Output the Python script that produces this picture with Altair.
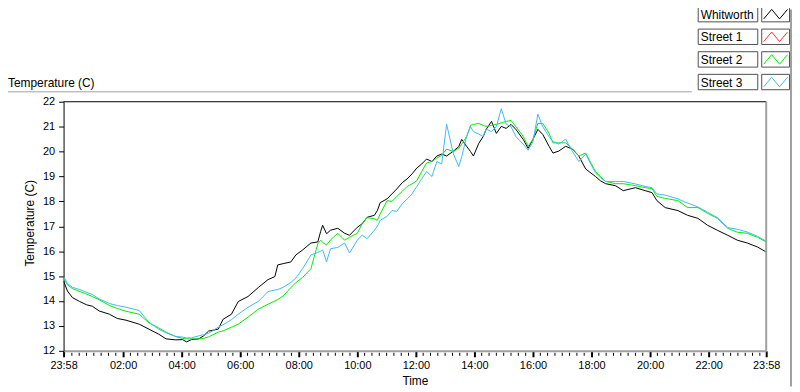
import altair as alt
import pandas as pd

# minutes after the first sample (23:58)
minutes = [0, 8, 18, 33, 47, 59, 73, 94, 110, 128,
           155, 175, 195, 210, 230, 244, 252, 262, 277, 287,
           297, 317, 327, 344, 358, 378, 399, 419, 433, 439,
           450, 466, 476, 490, 507, 521, 527, 531, 539, 547,
           562, 576, 586, 602, 612, 622, 637, 643, 649, 663,
           673, 683, 694, 704, 714, 724, 734, 744, 755, 765,
           775, 785, 799, 810, 816, 826, 834, 840, 851, 860,
           866, 877, 887, 897, 907, 917, 927, 942, 952, 962,
           972, 982, 995, 1003, 1015, 1029, 1043, 1056, 1070, 1090,
           1100, 1111, 1131, 1147, 1172, 1192, 1206, 1216, 1233, 1259,
           1279, 1300, 1320, 1340, 1361, 1381, 1401, 1422, 1440]

whitworth = [14.8, 14.4, 14.14, 13.98, 13.85, 13.79, 13.6, 13.47, 13.3, 13.23,
             13.07, 12.87, 12.67, 12.48, 12.44, 12.45, 12.36, 12.45, 12.48, 12.6,
             12.79, 12.87, 13.27, 13.47, 13.98, 14.18, 14.54, 14.86, 14.98, 15.45,
             15.5, 15.57, 15.85, 16.05, 16.33, 16.37, 16.8, 17.04, 16.7, 16.84,
             16.92, 16.72, 16.64, 16.96, 17.1, 17.36, 17.44, 17.63, 17.95, 18.1,
             18.3, 18.5, 18.75, 18.9, 19.1, 19.34, 19.5, 19.7, 19.6, 19.82,
             19.9, 19.82, 20.02, 20.2, 20.49, 20.21, 20.0, 19.82, 20.33, 20.6,
             20.89, 21.21, 20.73, 21.01, 20.93, 21.09, 20.89, 20.49, 20.13, 20.49,
             20.89, 20.69, 20.21, 19.94, 20.02, 20.21, 20.1, 19.82, 19.3, 19.0,
             18.83, 18.71, 18.63, 18.43, 18.55, 18.43, 18.35, 18.03, 17.75, 17.63,
             17.44, 17.32, 17.04, 16.84, 16.64, 16.44, 16.33, 16.17, 15.97]

street2 = [14.94, 14.65, 14.5, 14.38, 14.28, 14.18, 14.05, 13.82, 13.7, 13.59,
           13.47, 13.12, 12.92, 12.75, 12.57, 12.5, 12.48, 12.48, 12.48, 12.5,
           12.56, 12.75, 12.8, 12.95, 13.07, 13.35, 13.67, 13.87, 14.0, 14.06,
           14.2, 14.54, 14.74, 14.95, 15.3, 16.3, 16.44, 16.35, 16.25, 16.45,
           16.72, 16.44, 16.56, 16.72, 17.1, 17.35, 17.3, 17.24, 17.5, 18.03,
           18.0, 18.2, 18.4, 18.6, 18.7, 18.83, 19.2, 19.54, 19.6, 19.74,
           19.85, 20.1, 20.0, 20.13, 20.3, 20.6, 21.05, 21.09, 21.13, 21.05,
           21.01, 21.05, 21.09, 21.15, 21.21, 21.25, 21.0, 20.61, 20.21, 20.49,
           21.13, 21.13, 20.73, 20.35, 20.35, 20.35, 20.1, 19.82, 19.94, 19.2,
           19.0, 18.8, 18.71, 18.71, 18.63, 18.55, 18.51, 18.2, 18.12, 18.03,
           17.75, 17.75, 17.52, 17.32, 16.92, 16.76, 16.72, 16.56, 16.37]

street3 = [14.98, 14.7, 14.55, 14.46, 14.35, 14.26, 14.08, 13.9, 13.82, 13.75,
           13.62, 13.15, 12.87, 12.72, 12.58, 12.55, 12.52, 12.52, 12.6, 12.65,
           12.7, 12.95, 13.05, 13.25, 13.47, 13.75, 13.98, 14.38, 14.44, 14.46,
           14.55, 14.75, 14.92, 15.3, 15.85, 15.95, 16.0, 16.05, 15.57, 16.1,
           16.15, 16.33, 15.93, 16.44, 16.65, 16.5, 16.84, 17.0, 17.24, 17.4,
           17.63, 17.6, 17.9, 18.1, 18.3, 18.6, 18.9, 19.2, 19.0, 19.6,
           19.5, 21.1, 19.9, 19.4, 19.8, 20.6, 21.0, 20.8, 20.7, 20.6,
           20.9, 20.8, 21.0, 21.72, 21.1, 21.0, 20.6, 20.3, 20.05, 20.4,
           21.5, 21.0, 20.6, 20.4, 20.3, 20.5, 20.0, 19.6, 19.9, 19.15,
           18.95, 18.8, 18.8, 18.8, 18.7, 18.6, 18.55, 18.3, 18.25, 18.1,
           17.93, 17.78, 17.56, 17.35, 16.95, 16.88, 16.77, 16.6, 16.4]

series_names = ["Whitworth", "Street 1", "Street 2", "Street 3"]
series_colors = ["#000000", "#ff3030", "#00ee00", "#40b8f8"]
y_ticks = list(range(12, 23))
x_label_hours = [2, 4, 6, 8, 10, 12, 14, 16, 18, 20, 22]

FONT = "Liberation Sans"
W, H = 708, 251

start = pd.Timestamp("2000-01-01 23:58")
end = pd.Timestamp("2000-01-02 23:58")
times = [start + pd.Timedelta(minutes=m) for m in minutes]

frames = []
for name, vals in [("Whitworth", whitworth), ("Street 2", street2), ("Street 3", street3)]:
    frames.append(pd.DataFrame({"time": times, "temp": vals, "series": name}))
df = pd.concat(frames, ignore_index=True)

dt_start = alt.DateTime(year=2000, month=1, date=1, hours=23, minutes=58)
dt_end = alt.DateTime(year=2000, month=1, date=2, hours=23, minutes=58)
x_values = [dt_start] + [alt.DateTime(year=2000, month=1, date=2, hours=h, minutes=0) for h in x_label_hours] + [dt_end]

x_scale = alt.Scale(domain=[dt_start, dt_end], nice=False)
y_scale = alt.Scale(domain=[12, 22], nice=False, zero=False)

x_axis = alt.Axis(values=x_values, format="%H:%M", labelFont=FONT, labelFontSize=11,
                  labelColor="black", tickColor="black", tickWidth=2, tickSize=6,
                  domainColor="#a0a0a0", domainWidth=2, labelPadding=3, grid=False,
                  labelFlush=False, labelOverlap=False,
                  title="Time", titleFont=FONT, titleFontSize=12, titleFontWeight="normal",
                  titleColor="black", titleY=34, titleBaseline="alphabetic")
y_axis = alt.Axis(values=y_ticks, labelFont=FONT, labelFontSize=11, labelColor="black",
                  tickColor="black", tickSize=5, domainColor="black", domainWidth=1,
                  labelPadding=4, grid=False, labelOverlap=False, labelFlush=False,
                  title="Temperature (C)", titleFont=FONT, titleFontSize=12,
                  titleFontWeight="normal", titleColor="black", titleX=-30, titleY=122,
                  titleBaseline="alphabetic", titleAngle=270)

lines = alt.Chart(df).mark_line(strokeWidth=1, clip=True).encode(
    x=alt.X("time:T", scale=x_scale, axis=x_axis),
    y=alt.Y("temp:Q", scale=y_scale, axis=y_axis),
    color=alt.Color("series:N", scale=alt.Scale(domain=series_names, range=series_colors), legend=None),
)

top_rule = alt.Chart(pd.DataFrame({"y": [22]})).mark_rule(color="black", strokeWidth=1).encode(
    y=alt.Y("y:Q", scale=y_scale, axis=y_axis))
right_rule = alt.Chart(pd.DataFrame({"t": [end]})).mark_rule(color="#a0a0a0", strokeWidth=2).encode(
    x=alt.X("t:T", scale=x_scale, axis=x_axis))

minor = pd.date_range("2000-01-02 00:15", "2000-01-02 23:45", freq="15min")
minor = [t for t in minor if not (t.minute == 0 and t.hour % 2 == 0)]
minor_ticks = alt.Chart(pd.DataFrame({"t": minor})).mark_rule(color="black", strokeWidth=1).encode(
    x=alt.X("t:T", scale=x_scale, axis=x_axis), y=alt.value(H + 2), y2=alt.value(H + 5))

title_txt = alt.Chart(pd.DataFrame({"s": ["Temperature (C)"]})).mark_text(
    font=FONT, fontSize=12, align="left", baseline="alphabetic", color="black").encode(
    text="s:N", x=alt.value(-56), y=alt.value(-15))

frame_top = alt.Chart(pd.DataFrame({"k": [0]})).mark_rule(color="#a0a0a0", strokeWidth=1).encode(
    x=alt.value(-56), x2=alt.value(633), y=alt.value(-10))
frame_right = alt.Chart(pd.DataFrame({"k": [0]})).mark_rule(color="#a0a0a0", strokeWidth=2).encode(
    x=alt.value(733), y=alt.value(-93), y2=alt.value(287))

zigzag = "M-1,0.4L-0.33,-0.4L0.33,0.4L1,-0.4"
legend_layers = []
for i, (name, col) in enumerate(zip(series_names, series_colors)):
    top = -96 + i * 22.8
    d = pd.DataFrame({"s": [name]})
    legend_layers.append(alt.Chart(d).mark_rect(fill="white", stroke="#505050", strokeWidth=1).encode(
        x=alt.value(639.5), x2=alt.value(699.5), y=alt.value(top), y2=alt.value(top + 15.5)))
    legend_layers.append(alt.Chart(d).mark_text(font=FONT, fontSize=12, align="left",
                                                baseline="alphabetic", color="black").encode(
        text="s:N", x=alt.value(642), y=alt.value(top + 12.5)))
    legend_layers.append(alt.Chart(d).mark_rect(fill="white", stroke="#505050", strokeWidth=1).encode(
        x=alt.value(703.5), x2=alt.value(731.5), y=alt.value(top), y2=alt.value(top + 15.5)))
    legend_layers.append(alt.Chart(d).mark_point(shape=zigzag, size=576, filled=False,
                                                 stroke=col, strokeWidth=1, opacity=1).encode(
        x=alt.value(717.5), y=alt.value(top + 7.75)))

chart = alt.layer(lines, top_rule, right_rule, minor_ticks, title_txt, frame_top, frame_right,
                  *legend_layers).properties(
    width=W, height=H,
    autosize=alt.AutoSizeParams(type="none"),
    padding={"left": 56, "top": 93, "right": 26, "bottom": 36},
    background="white",
).configure_view(strokeWidth=0)

chart.save("out.html", embed_options={"renderer": "svg", "actions": False})
